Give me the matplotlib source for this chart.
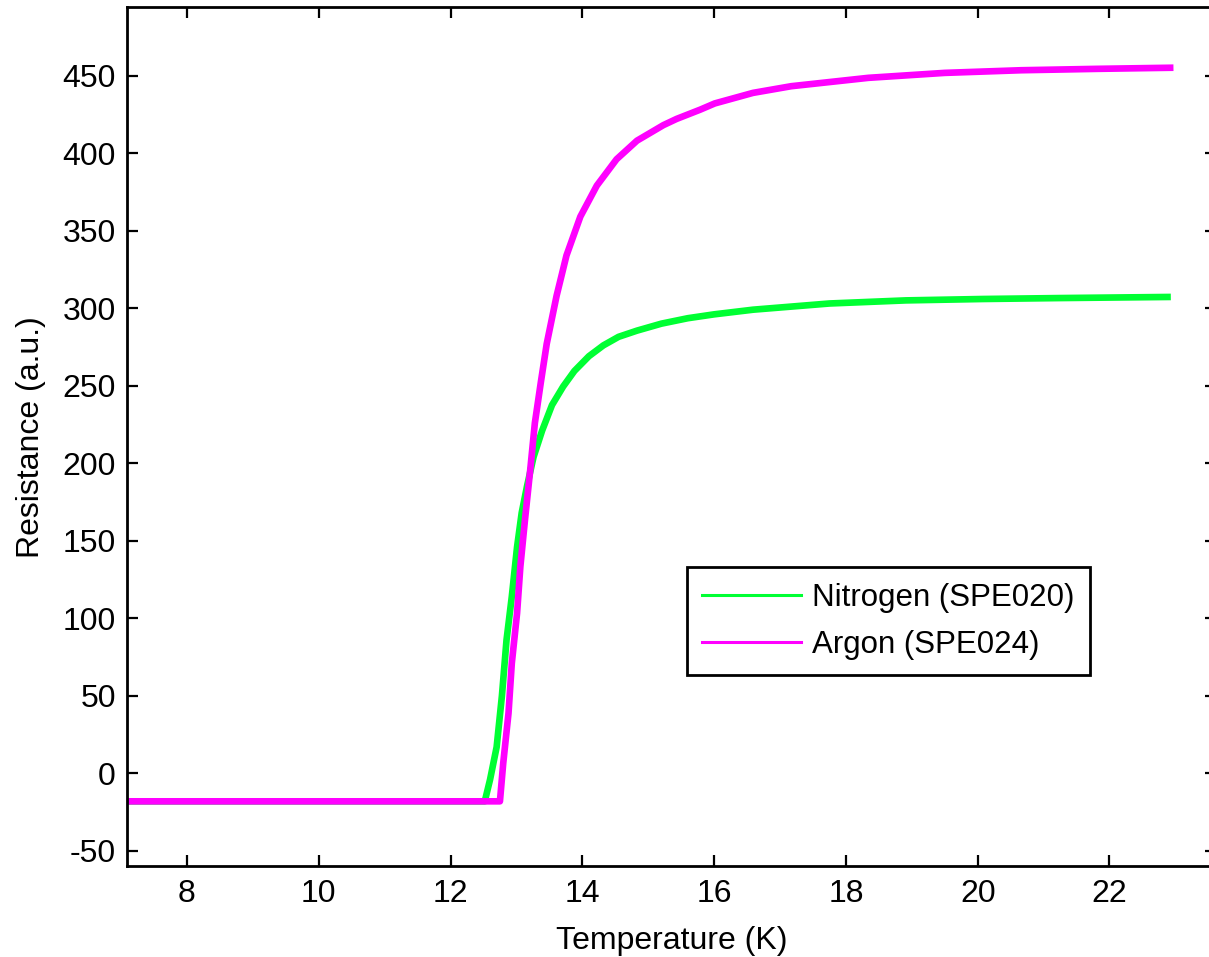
import matplotlib
matplotlib.use("Agg")
import matplotlib.pyplot as plt

plt.rcParams['font.family'] = ['Liberation Sans', 'DejaVu Sans']
plt.rcParams['axes.unicode_minus'] = False

# resistance transition
temp_n2 = [7.1, 12.52, 12.60, 12.70, 12.78, 12.85, 12.93, 13.01, 13.08, 13.16,
           13.26, 13.39, 13.54, 13.71, 13.88, 14.10, 14.32, 14.55, 14.83, 15.20,
           15.60, 16.00, 16.59, 17.75, 18.91, 20.08, 21.24, 22.88]
res_n2 = [-18, -18, -4, 17, 50, 86, 114, 146, 168, 185,
          204, 221, 237.5, 249.5, 259.5, 269, 276, 281.5, 285.5, 290,
          293.5, 296, 299, 303, 305, 305.9, 306.5, 307.2]

temp_ar = [7.1, 12.75, 12.80, 12.88, 12.93, 13.01, 13.06, 13.13, 13.21, 13.28,
           13.37, 13.46, 13.61, 13.76, 13.97, 14.22, 14.52, 14.83, 15.23, 15.43,
           15.79, 16.01, 16.59, 17.17, 18.34, 19.50, 20.66, 21.82, 22.92]
res_ar = [-18, -18, 6.6, 38.8, 71, 103.3, 133.4, 163.5, 195.8, 225.9,
          252, 277, 308, 334, 359, 379, 396, 408, 418, 422,
          428, 432, 438.8, 443.1, 448.5, 451.7, 453.4, 454.3, 455]

labels = ['Nitrogen (SPE020)', 'Argon (SPE024)']
x_ticks = [8, 10, 12, 14, 16, 18, 20, 22]
y_ticks = [-50, 0, 50, 100, 150, 200, 250, 300, 350, 400, 450]

fig = plt.figure(figsize=(12.09, 9.57), dpi=100)
# right spine sits just past the figure edge
ax = fig.add_axes([0.105, 0.0946, 0.901, 0.8978])

ax.plot(temp_n2, res_n2, color='#00ff33', lw=4.8, solid_joinstyle='round', label=labels[0])
ax.plot(temp_ar, res_ar, color='#ff00ff', lw=4.8, solid_joinstyle='round', label=labels[1])

ax.set_xlim(7.09, 23.62)
ax.set_ylim(-60, 494)
ax.set_xticks(x_ticks)
ax.set_yticks(y_ticks)

ax.tick_params(direction='in', length=8, width=1.6, labelsize=23,
               top=True, right=True, pad=8)
ax.tick_params(axis='x', pad=9)
for sp in ax.spines.values():
    sp.set_linewidth(2)

ax.set_xlabel('Temperature (K)', fontsize=23, labelpad=12)
ax.set_ylabel('Resistance (a.u.)', fontsize=23, labelpad=12)

leg = ax.legend(loc='upper left', bbox_to_anchor=(0.514, 0.3486), fontsize=22.5,
                fancybox=False, edgecolor='black', framealpha=1,
                handlelength=3.15, handletextpad=0.35, labelspacing=0.55,
                borderpad=0.5, borderaxespad=0)
leg.get_frame().set_linewidth(2)
for h in leg.get_lines():
    h.set_linewidth(2.2)

fig.savefig('out.png', dpi=100)
